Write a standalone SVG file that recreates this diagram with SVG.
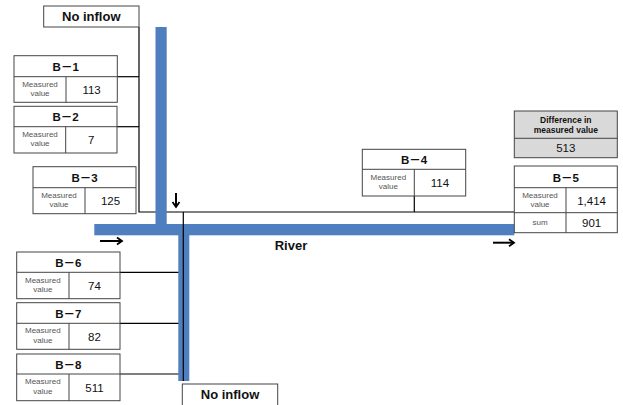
<svg xmlns="http://www.w3.org/2000/svg" width="623" height="405" viewBox="0 0 623 405">
<style>
.box{fill:#fff;stroke:#444;stroke-width:1}
.gbox{fill:#d9d9d9;stroke:#444;stroke-width:1}
.ln{stroke:#444;stroke-width:1;fill:none}
.blk{stroke:#000;stroke-width:1.2;fill:none}
.arr{stroke:#000;stroke-width:2;fill:none}
.riv{fill:#4f7fbf}
.hd{font-family:"Liberation Sans","Noto Sans CJK KR",sans-serif;font-weight:bold;font-size:11.5px;fill:#111;text-anchor:middle}
.mv{font-family:"Liberation Sans",sans-serif;font-size:8px;fill:#555;text-anchor:middle}
.val{font-family:"Liberation Sans",sans-serif;font-size:11.5px;fill:#111;text-anchor:middle}
.big{font-family:"Liberation Sans",sans-serif;font-weight:bold;font-size:13px;fill:#111;text-anchor:middle}
.dh{font-family:"Liberation Sans",sans-serif;font-weight:bold;font-size:8.5px;fill:#111;text-anchor:middle}
</style>
<defs>
<marker id="ah" markerWidth="10" markerHeight="10" refX="8" refY="5" orient="auto" markerUnits="userSpaceOnUse">
<path d="M3,1.5 L8,5 L3,8.5" fill="none" stroke="#000" stroke-width="1.8"/>
</marker>
</defs>
<g id="connectors">
<path class="blk" d="M139,27 V212 H514"/>
<path class="blk" d="M414.3,196 V212"/>
<path class="blk" d="M117,76.7 H139"/>
<path class="blk" d="M117,126.7 H139"/>
<path class="blk" d="M120,272.3 H183.3"/>
<path class="blk" d="M120,323.3 H183.3"/>
<path class="blk" d="M120,374 H183.3"/>
<path class="arr" d="M176,193 V207" marker-end="url(#ah)"/>
<path class="arr" d="M100,241 H122" marker-end="url(#ah)"/>
<path class="arr" d="M493,242.7 H514" marker-end="url(#ah)"/>
</g>
<g id="river">
<rect class="riv" x="155.5" y="27" width="11.2" height="198"/>
<rect class="riv" x="94.3" y="224" width="420" height="11.3"/>
<rect class="riv" x="178.3" y="234" width="11" height="147"/>
<path class="blk" d="M183.3,212 V381"/>
<text class="big" x="291" y="250" font-size="12">River</text>
</g>
<g id="no-inflow-top">
<rect class="box" x="43.7" y="6" width="95.3" height="21"/>
<text class="big" x="91.3" y="21">No inflow</text>
</g>
<g id="no-inflow-bottom">
<rect class="box" x="182.3" y="384" width="95.4" height="30"/>
<text class="big" x="230" y="399">No inflow</text>
</g>
<g id="B1">
<rect class="box" x="14" y="55.7" width="103.3" height="46.6"/>
<path class="ln" d="M14,76.7 H117.3 M66,76.7 V102.3"/>
<text class="hd" x="65.7" y="70.5">B－1</text>
<text class="mv" x="40" y="86.5">Measured</text><text class="mv" x="40" y="96">value</text>
<text class="val" x="91.6" y="93.5">113</text>
</g>
<g id="B2">
<rect class="box" x="14" y="106.3" width="103" height="46.7"/>
<path class="ln" d="M14,126.7 H117 M65.7,126.7 V153"/>
<text class="hd" x="65.5" y="121">B－2</text>
<text class="mv" x="40" y="136.5">Measured</text><text class="mv" x="40" y="146">value</text>
<text class="val" x="91.3" y="144">7</text>
</g>
<g id="B3">
<rect class="box" x="33" y="166.7" width="103" height="47"/>
<path class="ln" d="M33,187.7 H136 M85,187.7 V213.7"/>
<text class="hd" x="84.5" y="182">B－3</text>
<text class="mv" x="59" y="197.5">Measured</text><text class="mv" x="59" y="207">value</text>
<text class="val" x="110.5" y="205">125</text>
</g>
<g id="B4">
<rect class="box" x="362.3" y="149.3" width="103.4" height="46.7"/>
<path class="ln" d="M362.3,169.3 H465.7 M414.3,169.3 V196"/>
<text class="hd" x="414" y="164">B－4</text>
<text class="mv" x="388.3" y="179.5">Measured</text><text class="mv" x="388.3" y="189">value</text>
<text class="val" x="440" y="187">114</text>
</g>
<g id="diff">
<rect class="gbox" x="514.3" y="111" width="103" height="46.7"/>
<path class="ln" d="M514.3,138.3 H617.3"/>
<text class="dh" x="565.8" y="123">Difference in</text>
<text class="dh" x="565.8" y="132.5">measured value</text>
<text class="val" x="565.8" y="152">513</text>
</g>
<g id="B5">
<rect class="box" x="514.3" y="166" width="103" height="66.7"/>
<path class="ln" d="M514.3,187.7 H617.3 M514.3,212.7 H617.3 M566,187.7 V232.7"/>
<text class="hd" x="565.8" y="182">B－5</text>
<text class="mv" x="540" y="197.5">Measured</text><text class="mv" x="540" y="207">value</text>
<text class="val" x="591.6" y="204.5">1,414</text>
<text class="mv" x="540" y="224.5">sum</text>
<text class="val" x="591.6" y="227">901</text>
</g>
<g id="B6">
<rect class="box" x="16.7" y="252" width="103.3" height="46.7"/>
<path class="ln" d="M16.7,272.3 H120 M69,272.3 V298.7"/>
<text class="hd" x="68.3" y="267">B－6</text>
<text class="mv" x="42.8" y="282.5">Measured</text><text class="mv" x="42.8" y="292">value</text>
<text class="val" x="94.5" y="290">74</text>
</g>
<g id="B7">
<rect class="box" x="16.7" y="302.7" width="103.3" height="46.6"/>
<path class="ln" d="M16.7,323.3 H120 M69,323.3 V349.3"/>
<text class="hd" x="68.3" y="317.5">B－7</text>
<text class="mv" x="42.8" y="333">Measured</text><text class="mv" x="42.8" y="342.5">value</text>
<text class="val" x="94.5" y="341">82</text>
</g>
<g id="B8">
<rect class="box" x="16.7" y="354" width="103.3" height="46.7"/>
<path class="ln" d="M16.7,374 H120 M69,374 V400.7"/>
<text class="hd" x="68.3" y="368.5">B－8</text>
<text class="mv" x="42.8" y="384">Measured</text><text class="mv" x="42.8" y="393.5">value</text>
<text class="val" x="94.5" y="392">511</text>
</g>
</svg>
